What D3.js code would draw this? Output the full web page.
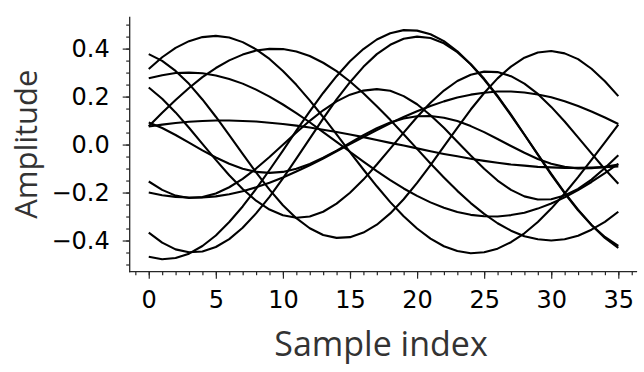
<!DOCTYPE html>
<html>
<head>
<meta charset="utf-8">
<script src="https://cdn.jsdelivr.net/npm/d3@7"></script>
<style>
  html, body { margin: 0; padding: 0; background: #fff; }
  svg { display: block; }
</style>
</head>
<body>
<svg id="chart" width="644" height="372"></svg>
<script>
// ---- data ----
const sampleIndex = [0,1,2,3,4,5,6,7,8,9,10,11,12,13,14,15,16,17,18,19,20,21,22,23,24,25,26,27,28,29,30,31,32,33,34,35];

const seriesP = [-0.468,-0.478,-0.473,-0.455,-0.423,-0.379,-0.323,-0.258,-0.185,-0.106,-0.025,0.058,0.138,0.215,0.285,0.347,0.398,0.438,0.464,0.477,0.475,0.460,0.431,0.389,0.335,0.271,0.200,0.122,0.041,-0.041,-0.122,-0.200,-0.271,-0.335,-0.389,-0.431];
const seriesQ = [-0.367,-0.409,-0.437,-0.449,-0.446,-0.427,-0.394,-0.347,-0.287,-0.218,-0.141,-0.059,0.025,0.108,0.188,0.260,0.324,0.377,0.416,0.441,0.450,0.444,0.422,0.385,0.335,0.274,0.203,0.125,0.042,-0.042,-0.125,-0.203,-0.274,-0.335,-0.385,-0.422];
const seriesR = [0.315,0.364,0.403,0.431,0.448,0.453,0.446,0.427,0.397,0.357,0.307,0.249,0.184,0.115,0.042,-0.032,-0.104,-0.174,-0.240,-0.299,-0.350,-0.392,-0.424,-0.444,-0.453,-0.449,-0.434,-0.407,-0.370,-0.323,-0.267,-0.204,-0.136,-0.064,0.009,0.083];
const seriesS = [0.076,0.133,0.186,0.236,0.281,0.319,0.351,0.375,0.392,0.399,0.398,0.388,0.369,0.341,0.306,0.263,0.214,0.160,0.103,0.043,-0.018,-0.079,-0.137,-0.193,-0.244,-0.289,-0.328,-0.359,-0.382,-0.395,-0.400,-0.395,-0.380,-0.355,-0.322,-0.280];
const seriesT = [0.377,0.349,0.307,0.253,0.188,0.116,0.039,-0.039,-0.116,-0.188,-0.253,-0.307,-0.349,-0.377,-0.389,-0.386,-0.367,-0.334,-0.287,-0.228,-0.160,-0.086,-0.008,0.070,0.146,0.215,0.276,0.325,0.362,0.384,0.390,0.380,0.356,0.316,0.264,0.202];
const seriesU = [0.238,0.191,0.134,0.070,0.003,-0.064,-0.128,-0.185,-0.234,-0.271,-0.295,-0.305,-0.300,-0.280,-0.246,-0.201,-0.146,-0.083,-0.017,0.050,0.115,0.174,0.225,0.265,0.291,0.304,0.302,0.285,0.254,0.211,0.157,0.096,0.030,-0.037,-0.103,-0.163];
const seriesV = [0.276,0.289,0.298,0.300,0.297,0.288,0.273,0.254,0.229,0.200,0.167,0.131,0.093,0.052,0.011,-0.030,-0.071,-0.111,-0.148,-0.183,-0.214,-0.241,-0.263,-0.281,-0.293,-0.299,-0.300,-0.294,-0.284,-0.267,-0.246,-0.220,-0.190,-0.156,-0.119,-0.080];
const seriesW = [-0.154,-0.189,-0.213,-0.223,-0.219,-0.204,-0.178,-0.143,-0.100,-0.052,-0.001,0.050,0.099,0.143,0.180,0.208,0.225,0.231,0.224,0.202,0.168,0.122,0.070,0.012,-0.046,-0.101,-0.150,-0.189,-0.216,-0.229,-0.228,-0.212,-0.185,-0.146,-0.098,-0.045];
const seriesX = [-0.200,-0.211,-0.218,-0.221,-0.220,-0.216,-0.207,-0.195,-0.178,-0.159,-0.137,-0.112,-0.086,-0.058,-0.028,0.002,0.031,0.060,0.089,0.115,0.139,0.161,0.180,0.196,0.208,0.216,0.221,0.221,0.217,0.209,0.197,0.181,0.161,0.138,0.113,0.086];
const seriesY = [0.092,0.069,0.040,0.008,-0.024,-0.054,-0.080,-0.101,-0.114,-0.118,-0.114,-0.101,-0.081,-0.055,-0.025,0.007,0.039,0.068,0.092,0.109,0.118,0.119,0.112,0.098,0.077,0.052,0.023,-0.006,-0.034,-0.060,-0.080,-0.093,-0.100,-0.099,-0.093,-0.083];
const seriesZ = [0.075,0.083,0.090,0.095,0.098,0.100,0.100,0.098,0.096,0.091,0.086,0.079,0.071,0.062,0.052,0.042,0.031,0.019,0.007,-0.004,-0.016,-0.028,-0.039,-0.049,-0.059,-0.068,-0.076,-0.083,-0.088,-0.093,-0.095,-0.097,-0.097,-0.096,-0.094,-0.091];

const xMajorTicks = [0,5,10,15,20,25,30,35];
const xMinorTicks = [-1,0,1,2,3,4,5,6,7,8,9,10,11,12,13,14,15,16,17,18,19,20,21,22,23,24,25,26,27,28,29,30,31,32,33,34,35,36];
const yMajorTicks = [-0.4,-0.2,0.0,0.2,0.4];
const yTickLabels = ["\u22120.4","\u22120.2","0.0","0.2","0.4"];
const yMinorTicks = [-0.5,-0.45,-0.4,-0.35,-0.3,-0.25,-0.2,-0.15,-0.1,-0.05,0,0.05,0.1,0.15,0.2,0.25,0.3,0.35,0.4,0.45,0.5];

const xLabel = "Sample index";
const yLabel = "Amplitude";

const allSeries = [seriesP, seriesQ, seriesR, seriesS, seriesT, seriesU, seriesV, seriesW, seriesX, seriesY, seriesZ];

// ---- layout ----
const plotLeft = 129.7, plotRight = 637.1, plotTop = 16.7, plotBottom = 271.7;
const x = d3.scaleLinear().domain([-1.42, 36.4]).range([plotLeft, plotRight]);
const y = d3.scaleLinear().domain([-0.53, 0.533]).range([plotBottom, plotTop]);

const svg = d3.select("#chart");
svg.append("rect").attr("width", 644).attr("height", 372).attr("fill", "#fff");

// lines
const line = d3.line().x((d, i) => x(sampleIndex[i])).y(d => y(d));
svg.append("g")
  .selectAll("path")
  .data(allSeries)
  .join("path")
  .attr("d", line)
  .attr("fill", "none")
  .attr("stroke", "#000")
  .attr("stroke-width", 2.1)
  .attr("stroke-linejoin", "round");

const axisColor = "#262626";
const tickFont = "'DejaVu Sans', sans-serif";
const tickSizePx = 24;

// x axis minor
const gxMinor = svg.append("g").attr("transform", `translate(0,${plotBottom})`)
  .call(d3.axisBottom(x).tickValues(xMinorTicks).tickSize(3.5).tickFormat(""));
gxMinor.select(".domain").remove();
// x axis major
const gx = svg.append("g").attr("transform", `translate(0,${plotBottom})`)
  .call(d3.axisBottom(x).tickValues(xMajorTicks).tickSize(7).tickPadding(12).tickFormat(d3.format("d")));
gx.select(".domain").remove();
gx.selectAll("text").attr("font-family", tickFont).attr("font-size", tickSizePx).attr("fill", "#000");

// y axis minor
const gyMinor = svg.append("g").attr("transform", `translate(${plotLeft},0)`)
  .call(d3.axisLeft(y).tickValues(yMinorTicks).tickSize(3.5).tickFormat(""));
gyMinor.select(".domain").remove();
const gy = svg.append("g").attr("transform", `translate(${plotLeft},0)`)
  .call(d3.axisLeft(y).tickValues(yMajorTicks).tickSize(7).tickPadding(13)
    .tickFormat((d, i) => yTickLabels[i]));
gy.select(".domain").remove();
gy.selectAll("text").attr("font-family", tickFont).attr("font-size", tickSizePx).attr("fill", "#000");
svg.selectAll(".tick line").attr("stroke", axisColor).attr("stroke-width", 1.2);

// spines
svg.append("line").attr("x1", plotLeft).attr("x2", plotLeft).attr("y1", plotTop).attr("y2", plotBottom + 0.6)
  .attr("stroke", axisColor).attr("stroke-width", 1.3);
svg.append("line").attr("x1", plotLeft - 0.6).attr("x2", plotRight).attr("y1", plotBottom).attr("y2", plotBottom)
  .attr("stroke", axisColor).attr("stroke-width", 1.3);

// axis labels
const labelFont = "'Open Sans', sans-serif";
svg.append("text").text(xLabel)
  .attr("x", 381).attr("y", 356)
  .attr("text-anchor", "middle")
  .attr("font-family", labelFont).attr("font-size", 34).attr("fill", "#333");
svg.append("text").text(yLabel)
  .attr("transform", `translate(37,${(plotTop + plotBottom) / 2}) rotate(-90)`)
  .attr("text-anchor", "middle")
  .attr("font-family", labelFont).attr("font-size", 31).attr("fill", "#333");
</script>
</body>
</html>
